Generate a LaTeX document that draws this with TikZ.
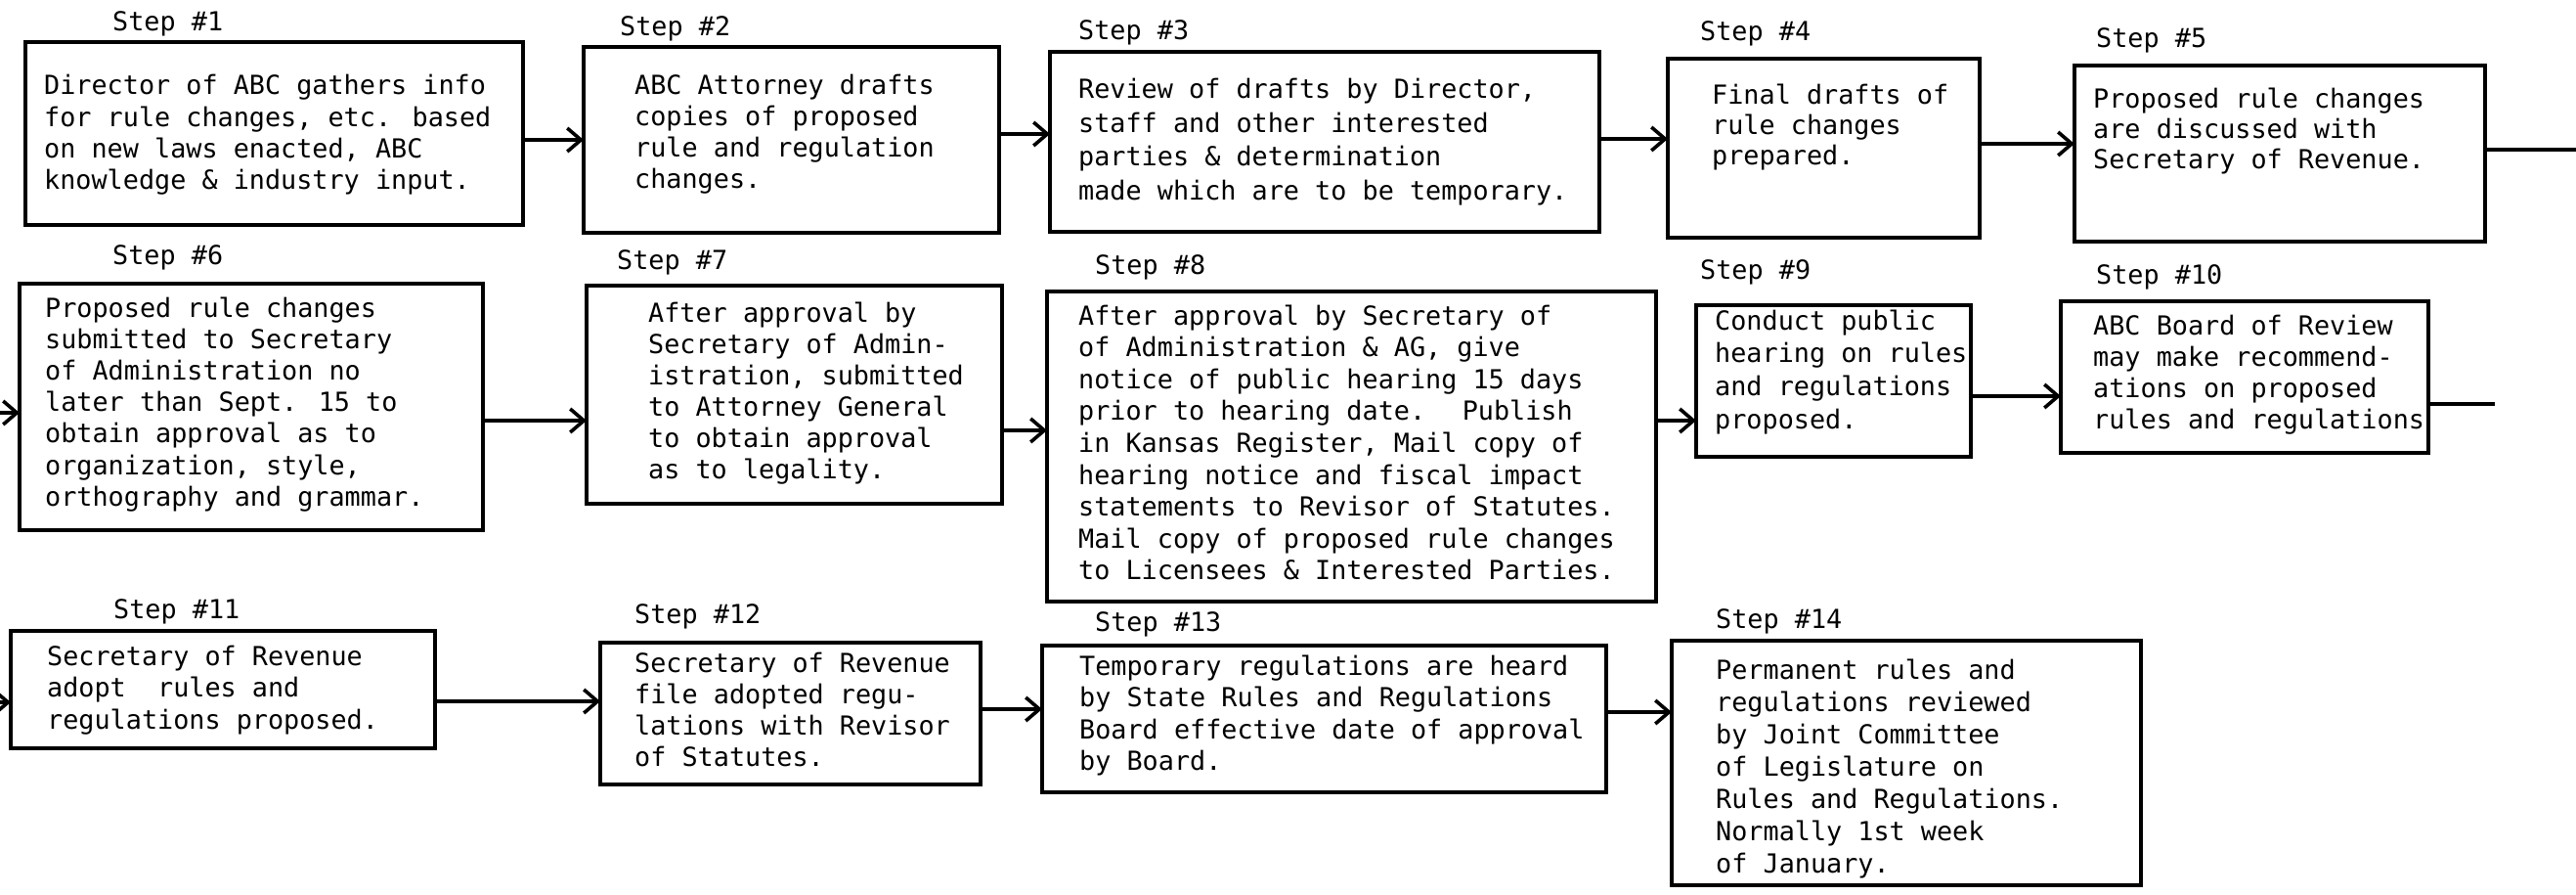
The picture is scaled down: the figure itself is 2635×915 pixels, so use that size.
\documentclass[tikz,border=0pt]{standalone}
\usepackage{fontspec}
\usetikzlibrary{arrows.meta}
\newfontfamily\tw{DejaVu Sans Mono}
\newcommand{\blk}[2][32.3]{\fontsize{26.8}{#1}\selectfont\begin{tabular}[t]{@{}l@{}}#2\end{tabular}}
\tikzset{
  box/.style={draw, line width=3.6pt, inner sep=0pt, outer sep=0pt, anchor=north west},
  txt/.style={font=\tw, inner sep=0pt, anchor=base west},
  lab/.style={font=\tw\fontsize{26.8}{32}\selectfont, inner sep=0pt, anchor=base west},
  arr/.style={line width=3.6pt, -{Straight Barb[length=14pt,width=24pt]}},
  ln/.style={line width=3.6pt},
}
\begin{document}
\begin{tikzpicture}[x=1pt,y=-1pt]
\useasboundingbox (0,0) rectangle (2635,915);
% ---------- Row 1 ----------
\node[box, minimum width=509pt, minimum height=187pt] (b1) at (26,43) {};
\node[box, minimum width=425pt, minimum height=190pt] (b2) at (597,48) {};
\node[box, minimum width=562pt, minimum height=184pt] (b3) at (1074,53) {};
\node[box, minimum width=319pt, minimum height=183pt] (b4) at (1706,60) {};
\node[box, minimum width=420pt, minimum height=180pt] (b5) at (2122,67) {};
\node[lab] (s1) at (115,32) {Step \#1};
\node[lab] (s2) at (634,37) {Step \#2};
\node[lab] (s3) at (1103,41) {Step \#3};
\node[lab] (s4) at (1739,42) {Step \#4};
\node[lab] (s5) at (2144,49) {Step \#5};
\node[txt] (t1) at (45,97) {\blk{Director of ABC gathers info\\for rule changes, etc. based\\on new laws enacted, ABC\\knowledge \& industry input.}};
\node[txt] (t2) at (649,97) {\blk[32]{ABC Attorney drafts\\copies of proposed\\rule and regulation\\changes.}};
\node[txt] (t3) at (1103,101) {\blk[34.5]{Review of drafts by Director,\\staff and other interested\\parties \& determination\\made which are to be temporary.}};
\node[txt] (t4) at (1751,107) {\blk[31]{Final drafts of\\rule changes\\prepared.}};
\node[txt] (t5) at (2141,111) {\blk[31]{Proposed rule changes\\are discussed with\\Secretary of Revenue.}};
\draw[arr] (b1.east |- 0,143) -- (b2.west |- 0,143);
\draw[arr] (b2.east |- 0,137) -- (b3.west |- 0,137);
\draw[arr] (b3.east |- 0,142) -- (b4.west |- 0,142);
\draw[arr] (b4.east |- 0,147) -- (b5.west |- 0,147);
\coordinate (out5) at (2635,153);
\draw[ln] (b5.east |- out5) -- (out5);
% ---------- Row 2 ----------
\node[box, minimum width=474pt, minimum height=252pt] (b6) at (20,290) {};
\node[box, minimum width=425pt, minimum height=223pt] (b7) at (600,292) {};
\node[box, minimum width=623pt, minimum height=317pt] (b8) at (1071,298) {};
\node[box, minimum width=281pt, minimum height=155pt] (b9) at (1735,312) {};
\node[box, minimum width=376pt, minimum height=155pt] (b10) at (2108,308) {};
\node[lab] (s6) at (115,270) {Step \#6};
\node[lab] (s7) at (631,275) {Step \#7};
\node[lab] (s8) at (1120,280) {Step \#8};
\node[lab] (s9) at (1739,285) {Step \#9};
\node[lab] (s10) at (2144,290) {Step \#10};
\node[txt] (t6) at (46,324) {\blk[32.2]{Proposed rule changes\\submitted to Secretary\\of Administration no\\later than Sept. 15 to\\obtain approval as to\\organization, style,\\orthography and grammar.}};
\node[txt] (t7) at (663,329) {\blk[32]{After approval by\\Secretary of Admin-\\istration, submitted\\to Attorney General\\to obtain approval\\as to legality.}};
\node[txt] (t8) at (1103,332) {\blk[32.6]{After approval by Secretary of\\of Administration \& AG, give\\notice of public hearing 15 days\\prior to hearing date.~ Publish\\in Kansas Register, Mail copy of\\hearing notice and fiscal impact\\statements to Revisor of Statutes.\\Mail copy of proposed rule changes\\to Licensees \& Interested Parties.}};
\node[txt] (t9) at (1754,337) {\blk[33.8]{Conduct public\\hearing on rules\\and regulations\\proposed.}};
\node[txt] (t10) at (2141,342) {\blk[32.3]{ABC Board of Review\\may make recommend-\\ations on proposed\\rules and regulations}};
\coordinate (in6) at (0,422);
\draw[arr] (in6) -- (b6.west |- in6);
\draw[arr] (b6.east |- 0,430) -- (b7.west |- 0,430);
\draw[arr] (b7.east |- 0,440) -- (b8.west |- 0,440);
\draw[arr] (b8.east |- 0,430) -- (b9.west |- 0,430);
\draw[arr] (b9.east |- 0,405) -- (b10.west |- 0,405);
\coordinate (out10) at (2552,413);
\draw[ln] (b10.east |- out10) -- (out10);
% ---------- Row 3 ----------
\node[box, minimum width=434pt, minimum height=120pt] (b11) at (11,645) {};
\node[box, minimum width=389pt, minimum height=145pt] (b12) at (614,657) {};
\node[box, minimum width=577pt, minimum height=150pt] (b13) at (1066,660) {};
\node[box, minimum width=480pt, minimum height=250pt] (b14) at (1710,655) {};
\node[lab] (s11) at (116,632) {Step \#11};
\node[lab] (s12) at (649,637) {Step \#12};
\node[lab] (s13) at (1120,645) {Step \#13};
\node[lab] (s14) at (1755,642) {Step \#14};
\node[txt] (t11) at (48,680) {\blk[32.5]{Secretary of Revenue\\adopt~ rules and\\regulations proposed.}};
\node[txt] (t12) at (649,687) {\blk[32.3]{Secretary of Revenue\\file adopted regu-\\lations with Revisor\\of Statutes.}};
\node[txt] (t13) at (1104,690) {\blk[32.5]{Temporary regulations are heard\\by State Rules and Regulations\\Board effective date of approval\\by Board.}};
\node[txt] (t14) at (1755,694) {\blk[33]{Permanent rules and\\regulations reviewed\\by Joint Committee\\of Legislature on\\Rules and Regulations.\\Normally 1st week\\of January.}};
\coordinate (in11) at (0,718);
\draw[arr] (in11) -- (b11.west |- in11);
\draw[arr] (b11.east |- 0,717) -- (b12.west |- 0,717);
\draw[arr] (b12.east |- 0,725) -- (b13.west |- 0,725);
\draw[arr] (b13.east |- 0,728) -- (b14.west |- 0,728);
\end{tikzpicture}
\end{document}
